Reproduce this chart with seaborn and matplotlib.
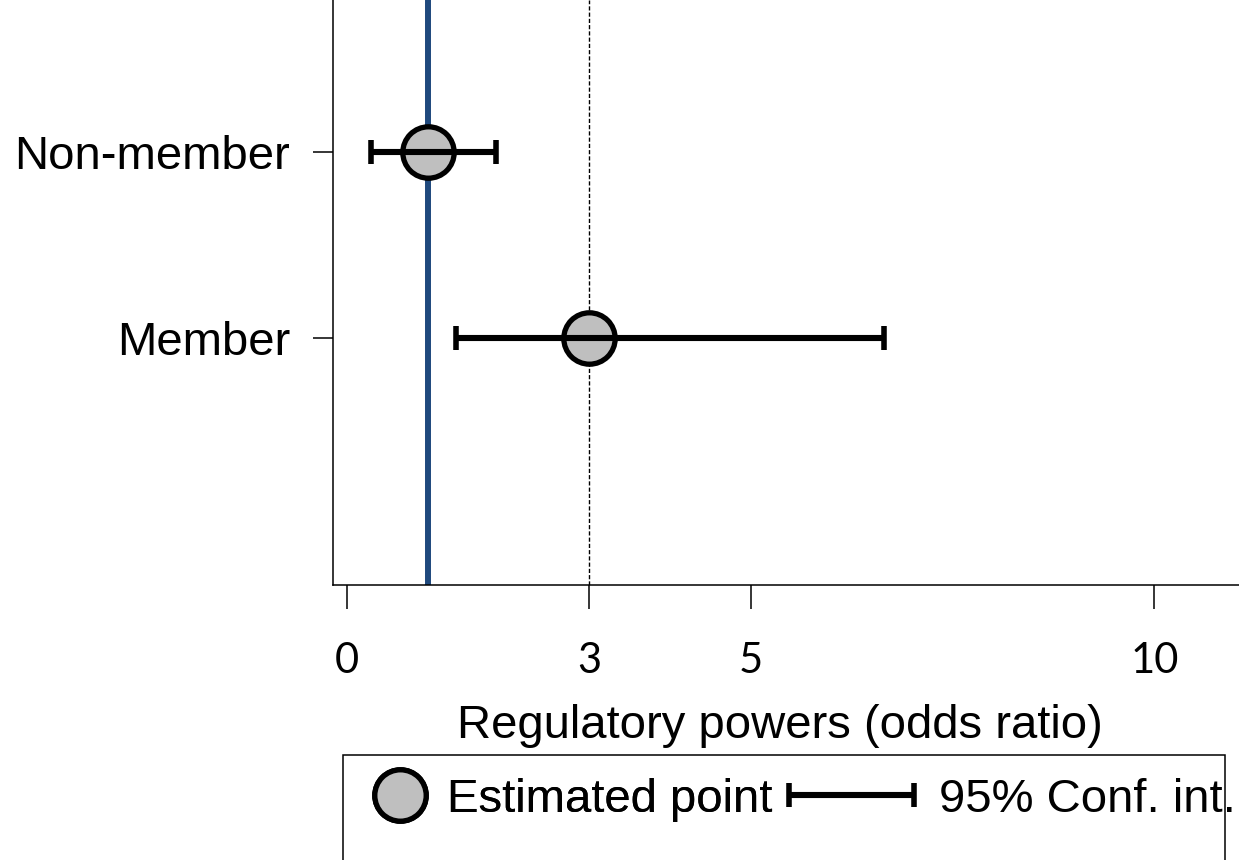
import numpy as np
import pandas as pd
import matplotlib
matplotlib.use("Agg")
import matplotlib.pyplot as plt
import seaborn as sns
from matplotlib.lines import Line2D
from matplotlib.patches import Rectangle
from matplotlib.container import ErrorbarContainer
from matplotlib.legend_handler import HandlerErrorbar

# ---- data ----
categories = ["Non-member", "Member"]
estimates = [1.0, 3.0]
ci_low = [0.3, 1.35]
ci_high = [1.85, 6.65]
xticks = [0, 3, 5, 10]
null_line = 1.0
dashed_line = 3.0
xlabel = "Regulatory powers (odds ratio)"
legend_labels = ["Estimated point", "95% Conf. int."]

sns.set_style("white")
plt.rcParams["font.family"] = ["Liberation Sans", "DejaVu Sans"]
plt.rcParams["text.color"] = "black"
plt.rcParams["axes.labelcolor"] = "black"
plt.rcParams["xtick.color"] = "black"
plt.rcParams["ytick.color"] = "black"
plt.rcParams["axes.edgecolor"] = "black"

W, H = 1239, 860
fig = plt.figure(figsize=(W / 100, H / 100), dpi=100)
ax = fig.add_axes([333 / W, 1 - 585 / H, 1 - 333 / W, 585 / H])

df = pd.DataFrame({
    "group": categories,
    "pos": np.arange(len(categories)),
    "estimate": estimates,
    "lo": ci_low,
    "hi": ci_high,
})

ax.axvline(null_line, color="#1F497D", lw=4.3, zorder=1)
ax.axvline(dashed_line, color="black", lw=1.0, ls=(0, (3, 1.5)), zorder=1)

sns.scatterplot(data=df, x="estimate", y="pos", s=37 ** 2, color="#BFBFBF",
                edgecolor="black", linewidth=3.8, zorder=3, legend=False, ax=ax)
eb = ax.errorbar(df["estimate"], df["pos"],
                 xerr=[df["estimate"] - df["lo"], df["hi"] - df["estimate"]],
                 fmt="none", ecolor="black", elinewidth=4.4, capsize=8.5,
                 capthick=4.0, zorder=4)

ax.set_xlim(-0.173, 11.05)
ax.set_ylim(2.328, -0.817)
ax.set_xticks(xticks)
ax.set_xticklabels([str(t) for t in xticks], fontfamily="Lato", fontsize=30)
ax.set_yticks(df["pos"])
ax.set_yticklabels(df["group"], fontsize=34)
ax.tick_params(axis="y", length=14.4, width=1.1, pad=16.5, color="black",
               labelcolor="black", left=True)
ax.tick_params(axis="x", length=17, width=1.1, pad=24, color="black",
               labelcolor="black", bottom=True)
ax.set_xlabel(xlabel, fontsize=34, color="black")
ax.xaxis.set_label_coords((780 - 333) / 906, (585 - 704) / 585)
ax.set_ylabel("")

for s in ["top", "right"]:
    ax.spines[s].set_visible(False)
for s in ["left", "bottom"]:
    ax.spines[s].set_color("black")
    ax.spines[s].set_linewidth(1.1)
ax.grid(False)

# ---- legend ----
point_handle = Line2D([], [], marker="o", ls="none", markersize=37,
                      markerfacecolor="#BFBFBF", markeredgecolor="black",
                      markeredgewidth=3.8)
yc = 1 - 800 / H
leg1 = fig.legend([point_handle], [legend_labels[0]], loc="center left",
                  bbox_to_anchor=(374 / W, yc), frameon=False, fontsize=34,
                  handlelength=1.1, handletextpad=0.44, borderpad=0,
                  borderaxespad=0, labelcolor="black")
leg2 = fig.legend([eb], [legend_labels[1]], loc="center left",
                  bbox_to_anchor=(788 / W, yc), frameon=False, fontsize=34,
                  handlelength=2.7, handletextpad=0.49, borderpad=0,
                  borderaxespad=0, labelcolor="black",
                  handler_map={ErrorbarContainer: HandlerErrorbar(xerr_size=1.32)})
fig.add_artist(leg1)

box = Rectangle((343 / W, -0.05), (1225 - 343) / W, (1 - 755 / H) + 0.05,
                transform=fig.transFigure, fill=False, edgecolor="black",
                lw=1.1, zorder=0)
fig.add_artist(box)

fig.savefig("out.png", dpi=100)
